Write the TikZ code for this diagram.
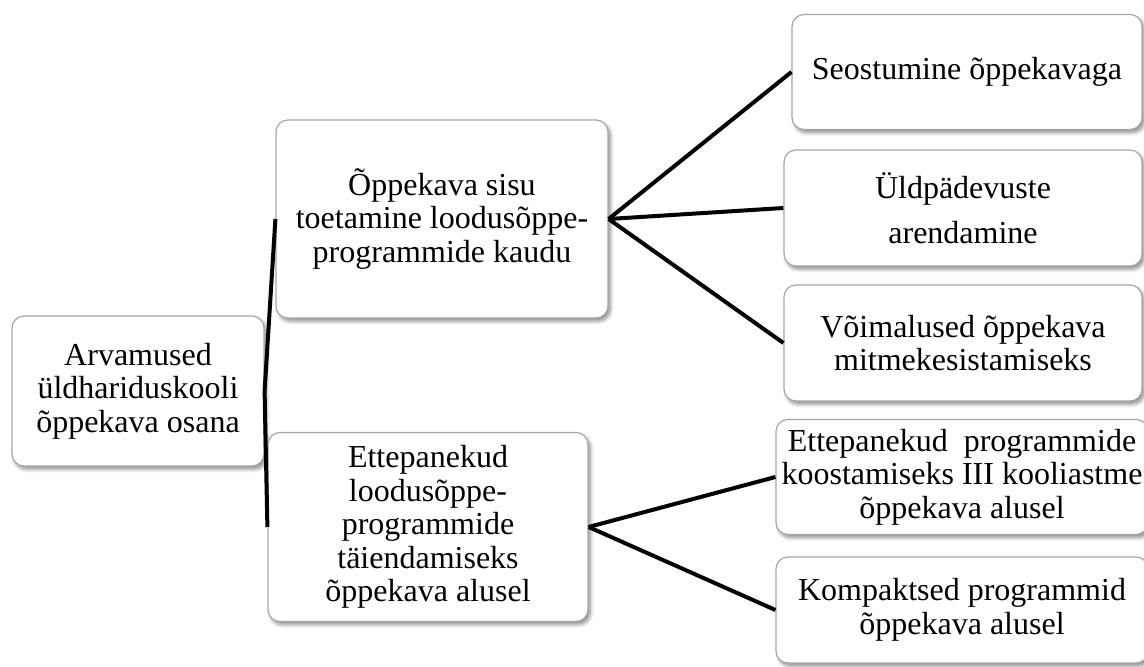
\documentclass[tikz,border=0pt]{standalone}
\usepackage{fontspec}
\setmainfont{Liberation Serif}
\usetikzlibrary{shadows.blur}

\tikzset{
  bubble/.style={draw=gray!70, line width=0.6pt, fill=white, rounded corners=6pt,
    blur shadow={shadow xshift=1.2pt, shadow yshift=-1.6pt, shadow blur steps=6, shadow opacity=45},
    align=center, inner sep=2pt, font=\fontsize{16}{16.8}\selectfont},
  branch/.style={line width=2pt, black}
}

\begin{document}
\begin{tikzpicture}[x=0.5pt,y=-0.5pt]
  \clip (0,0) rectangle (1144,667);
  \useasboundingbox (0,0) rectangle (1144,667);

  %root
  \node[bubble, minimum width=126pt, minimum height=75pt] (root) at (138,391)
    {Arvamused\\üldhariduskooli\\õppekava osana};

  %middle level
  \node[bubble, minimum width=166pt, minimum height=99pt] (sisu) at (442,219)
    {Õppekava sisu\\toetamine loodusõppe-\\programmide kaudu};
  \node[bubble, minimum width=160pt, minimum height=94.5pt] (ettep) at (428,527)
    {Ettepanekud\\loodusõppe-\\programmide\\täiendamiseks\\õppekava alusel};

  %leaves
  \node[bubble, minimum width=175pt, minimum height=57.5pt] (seos) at (967,72)
    {Seostumine õppekavaga};
  \node[bubble, minimum width=179pt, minimum height=58pt] (pade) at (963,208)
    {Üldpädevuste\\[6pt]arendamine};
  \node[bubble, minimum width=179pt, minimum height=58pt] (voim) at (963,343)
    {Võimalused õppekava\\mitmekesistamiseks};
  \node[bubble, minimum width=186pt, minimum height=57.5pt] (koos) at (962,477)
    {Ettepanekud\ \ programmide\\koostamiseks III kooliastme\\õppekava alusel};
  \node[bubble, minimum width=186pt, minimum height=53pt] (komp) at (962,610)
    {Kompaktsed programmid\\õppekava alusel};

  %connectors
  \draw[branch] (root.east) -- (sisu.west);
  \draw[branch] (root.east) -- (ettep.west);

  \draw[branch] (sisu.east) -- (seos.west);
  \draw[branch] (sisu.east) -- (pade.west);
  \draw[branch] (sisu.east) -- (voim.west);

  \draw[branch] (ettep.east) -- (koos.west);
  \draw[branch] (ettep.east) -- (komp.west);
\end{tikzpicture}
\end{document}
